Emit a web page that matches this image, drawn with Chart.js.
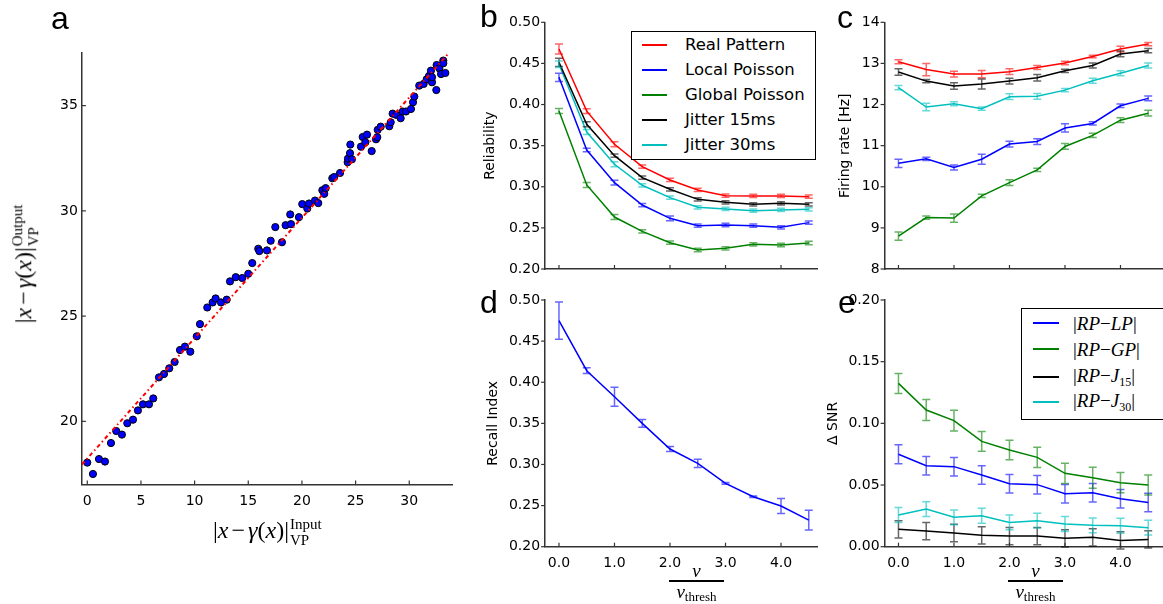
<!DOCTYPE html>
<html>
<head>
<meta charset="utf-8">
<script src="https://cdn.jsdelivr.net/npm/chart.js@4.4.0/dist/chart.umd.min.js"></script>
<style>
    body { margin: 0; background: #fff; }
    #fig { position: relative; width: 1163px; height: 604px; overflow: hidden; background: #fff; }
    canvas { position: absolute; left: 0; top: 0; }
    .plab { position: absolute; font-family: "Liberation Sans", Arial, sans-serif; font-size: 32px; line-height: 1; }
    .math { position: absolute; font-family: "Liberation Serif", serif; white-space: nowrap; color: #000; line-height: 1; }
    .math .op { margin: 0 3px; font-style: normal; }
    .ss { display: inline-block; vertical-align: middle; font-size: 15px; line-height: 1.05; text-align: left; margin-left: 1px; }
    .ss span { display: block; }
    .rot { transform: translate(-50%, -50%) rotate(-90deg); }
    .frac { position: absolute; text-align: center; font-family: "Liberation Serif", serif; }
    .frac .bar { border-top: 2px solid #000; margin: 0; }
    .frac .num { font-size: 19px; font-style: italic; line-height: 18px; }
    .frac .den { font-size: 19px; line-height: 20px; }
    .frac .den sub { font-size: 13px; font-style: normal; vertical-align: -3px; }
    .leg { position: absolute; border: 1px solid #000; background: #fff; }
    .leg .ls { position: absolute; height: 2px; }
    .leg .lt { position: absolute; white-space: nowrap; line-height: 1; transform: translateY(-50%); }
    .legb .lt { font-family: "DejaVu Sans", sans-serif; font-size: 16.5px; }
    .lege .lt { font-family: "Liberation Serif", serif; font-size: 19px; }
    .lege .lt sub { font-size: 12px; font-style: normal; }
</style>
</head>
<body>
<div id="fig">
    <canvas id="ca" width="1163" height="604"></canvas>
    <canvas id="cb" width="1163" height="604"></canvas>
    <canvas id="cc" width="1163" height="604"></canvas>
    <canvas id="cd" width="1163" height="604"></canvas>
    <canvas id="ce" width="1163" height="604"></canvas>

    <div class="plab" style="left:51px;top:2px">a</div>
    <div class="plab" style="left:480px;top:0px">b</div>
    <div class="plab" style="left:837px;top:1px">c</div>
    <div class="plab" style="left:480px;top:286px">d</div>
    <div class="plab" style="left:838px;top:286px">e</div>

    <div class="math rot" style="left:26px;top:264px;font-size:24px">|<i>x</i><span class="op">−</span><i>γ</i>(<i>x</i>)|<span class="ss"><span>Output</span><span>VP</span></span></div>
    <div class="math" style="left:213px;top:517px;font-size:24px">|<i>x</i><span class="op">−</span><i>γ</i>(<i>x</i>)|<span class="ss"><span>Input</span><span>VP</span></span></div>

    <div class="frac" style="left:669px;top:562px;width:55px">
        <div class="num">ν</div><div class="bar"></div><div class="den"><i>ν</i><sub>thresh</sub></div>
    </div>
    <div class="frac" style="left:1008px;top:562px;width:55px">
        <div class="num">ν</div><div class="bar"></div><div class="den"><i>ν</i><sub>thresh</sub></div>
    </div>

    <div id="legb" class="leg legb" style="left:631px;top:31px;width:183px;height:127px"></div>
    <div id="lege" class="leg lege" style="left:1021px;top:308px;width:141px;height:110px"></div>
</div>
<script>
const W = 1163, H = 604;
const AX = '#333';

const RED = '#ff0000', BLUE = '#0000ff', GREEN = '#008000', BLACK = '#000000', CYAN = '#00bfbf';

/* ── shared x grid for b-e ───────────────────────────── */
const X_STEPS = [0, 0.5, 1, 1.5, 2, 2.5, 3, 3.5, 4, 4.5];
const X_TICKS = [0, 1, 2, 3, 4];

/* ── a: output vs input distance ─────────────────────── */
const A_INPUT = [0.0, 0.53, 1.09, 1.65, 2.21, 2.70, 3.23, 3.73, 4.26, 4.72, 5.19, 5.75, 6.15, 6.68, 7.15,
    7.64, 8.14, 8.64, 9.10, 9.60, 10.20, 10.50, 11.18, 11.68, 11.96, 12.46, 12.99, 13.30, 13.83, 14.44,
    15.00, 15.37, 15.93, 16.03, 16.74, 17.09, 17.52, 18.14, 18.48, 18.98, 18.91, 19.72, 20.03, 20.50,
    20.66, 21.22, 21.52, 21.90, 22.08, 22.21, 22.83, 23.01, 23.55, 24.26, 24.29, 24.48, 24.66, 24.51,
    25.50, 25.66, 25.91, 26.06, 26.50, 26.90, 27.02, 27.06, 27.34, 28.14, 28.27, 28.45, 28.79, 29.20,
    29.39, 29.69, 30.16, 30.35, 30.47, 30.93, 31.34, 31.62, 31.84, 32.02, 32.12, 32.12, 32.52, 32.55,
    32.80, 32.96, 33.17, 33.17, 33.36];
const A_OUTPUT = [18.04, 17.50, 18.21, 18.09, 18.97, 19.54, 19.37, 19.91, 20.08, 20.52, 20.81, 20.81, 21.09, 22.09, 22.25,
    22.52, 22.82, 23.39, 23.55, 23.31, 24.04, 24.62, 25.41, 25.65, 25.84, 25.65, 25.78, 26.65, 26.85, 26.81,
    27.01, 27.52, 28.20, 28.09, 28.12, 28.58, 29.23, 28.51, 29.32, 29.37, 29.83, 29.70, 30.32, 30.11,
    30.35, 30.49, 30.37, 30.98, 30.81, 31.08, 31.55, 31.61, 31.80, 32.31, 32.48, 32.74, 32.45, 33.15,
    33.05, 33.51, 33.26, 33.62, 32.84, 33.40, 33.50, 33.85, 34.00, 34.02, 34.21, 34.62, 34.56, 34.40,
    34.72, 34.72, 34.84, 35.16, 35.43, 35.95, 36.03, 36.25, 36.41, 36.66, 36.11, 36.35, 35.74, 36.93,
    36.77, 36.50, 37.14, 37.01, 36.55];
const FIT_X = [-0.5, 33.6];
const FIT_Y = [17.95, 37.45];
const A_XTICKS = [0, 5, 10, 15, 20, 25, 30];
const A_YTICKS = [20, 25, 30, 35];

/* ── b: reliability ──────────────────────────────────── */
const REL_RP = [0.4676, 0.392, 0.3516, 0.3245, 0.3083, 0.2961, 0.2892, 0.2888, 0.2888, 0.288];
const REL_LP = [0.4331, 0.3447, 0.305, 0.2778, 0.2616, 0.2527, 0.2535, 0.2527, 0.2507, 0.2564];
const REL_GP = [0.3922, 0.3022, 0.2632, 0.2458, 0.232, 0.2231, 0.2251, 0.23, 0.2292, 0.2316];
const REL_J15 = [0.4514, 0.376, 0.3378, 0.3111, 0.2969, 0.2847, 0.2811, 0.2787, 0.2799, 0.2787];
const REL_J30 = [0.4489, 0.3666, 0.3273, 0.3018, 0.2868, 0.275, 0.273, 0.2709, 0.2718, 0.2726];
const REL_RP_ERR = [0.006, 0.003, 0.003, 0.002, 0.002, 0.002, 0.002, 0.002, 0.002, 0.002];
const REL_LP_ERR = [0.005, 0.002, 0.003, 0.002, 0.003, 0.002, 0.002, 0.002, 0.002, 0.002];
const REL_GP_ERR = [0.003, 0.003, 0.003, 0.002, 0.002, 0.002, 0.002, 0.002, 0.002, 0.002];
const REL_J15_ERR = [0.005, 0.003, 0.002, 0.002, 0.002, 0.002, 0.002, 0.002, 0.002, 0.002];
const REL_J30_ERR = [0.004, 0.003, 0.003, 0.002, 0.002, 0.002, 0.002, 0.002, 0.002, 0.002];
const REL_TICKS = [0.20, 0.25, 0.30, 0.35, 0.40, 0.45, 0.50];
const REL_LABELS = ['Real Pattern', 'Local Poisson', 'Global Poisson', 'Jitter 15ms', 'Jitter 30ms'];

/* ── c: firing rate ──────────────────────────────────── */
const FR_RP = [13.04, 12.85, 12.74, 12.74, 12.80, 12.90, 13.01, 13.17, 13.35, 13.47];
const FR_LP = [10.57, 10.68, 10.47, 10.67, 11.04, 11.10, 11.43, 11.54, 11.97, 12.15];
const FR_GP = [8.80, 9.25, 9.24, 9.78, 10.10, 10.41, 10.98, 11.25, 11.62, 11.79];
const FR_J15 = [12.79, 12.57, 12.45, 12.50, 12.57, 12.65, 12.82, 12.95, 13.23, 13.31];
const FR_J30 = [12.41, 11.94, 12.02, 11.90, 12.19, 12.20, 12.35, 12.58, 12.76, 12.95];
const FR_RP_ERR = [0.05, 0.15, 0.07, 0.09, 0.07, 0.05, 0.04, 0.03, 0.07, 0.04];
const FR_LP_ERR = [0.10, 0.04, 0.06, 0.12, 0.07, 0.07, 0.10, 0.04, 0.04, 0.06];
const FR_GP_ERR = [0.10, 0.04, 0.10, 0.04, 0.07, 0.04, 0.07, 0.05, 0.06, 0.07];
const FR_J15_ERR = [0.08, 0.04, 0.08, 0.12, 0.07, 0.08, 0.04, 0.06, 0.07, 0.05];
const FR_J30_ERR = [0.05, 0.09, 0.05, 0.04, 0.07, 0.07, 0.04, 0.06, 0.06, 0.06];
const FR_TICKS = [8, 9, 10, 11, 12, 13, 14];

/* ── d: recall index ─────────────────────────────────── */
const RECALL = [0.4749, 0.414, 0.3824, 0.35, 0.3188, 0.3013, 0.277, 0.2608, 0.2495, 0.2324];
const RECALL_ERR = [0.0227, 0.0035, 0.0115, 0.0047, 0.003, 0.005, 0.001, 0.001, 0.009, 0.012];

/* ── e: delta SNR ────────────────────────────────────── */
const SNR_LP = [0.0749, 0.0657, 0.0649, 0.0581, 0.0511, 0.0503, 0.043, 0.0438, 0.0389, 0.0359];
const SNR_GP = [0.1324, 0.1108, 0.1022, 0.0854, 0.0784, 0.0724, 0.0595, 0.0559, 0.0519, 0.05];
const SNR_J15 = [0.0141, 0.0127, 0.0111, 0.0092, 0.0086, 0.0086, 0.0068, 0.0076, 0.0051, 0.0059];
const SNR_J30 = [0.0257, 0.0305, 0.0238, 0.0251, 0.0197, 0.0211, 0.0184, 0.0173, 0.017, 0.0154];
const SNR_LP_ERR = [0.0077, 0.0075, 0.0075, 0.0075, 0.0075, 0.0075, 0.0075, 0.0075, 0.0075, 0.0075];
const SNR_GP_ERR = [0.0081, 0.0085, 0.0084, 0.008, 0.008, 0.0082, 0.0082, 0.0085, 0.0082, 0.0081];
const SNR_J15_ERR = [0.007, 0.007, 0.007, 0.007, 0.007, 0.007, 0.007, 0.007, 0.007, 0.007];
const SNR_J30_ERR = [0.006, 0.006, 0.006, 0.006, 0.006, 0.006, 0.006, 0.006, 0.006, 0.006];
const SNR_TICKS = [0.00, 0.05, 0.10, 0.15, 0.20];
const SNR_LABELS = ['|<i>RP</i>−<i>LP</i>|', '|<i>RP</i>−<i>GP</i>|', '|<i>RP</i>−<i>J</i><sub>15</sub>|', '|<i>RP</i>−<i>J</i><sub>30</sub>|'];

Chart.defaults.font.family = '"DejaVu Sans", sans-serif';
Chart.defaults.font.size = 14;
Chart.defaults.color = '#000';

/* ── plugins ─────────────────────────────────────────── */
const errorBars = {
    id: 'errorBars',
    afterDatasetsDraw(chart) {
        const { ctx, scales: { x, y } } = chart;
        chart.data.datasets.forEach(ds => {
            if (!ds.errors) return;
            ctx.save();
            ctx.strokeStyle = ds.borderColor;
            ctx.globalAlpha = 0.6;
            ctx.lineWidth = 1.5;
            ds.data.forEach((p, i) => {
                const e = ds.errors[i];
                const px = x.getPixelForValue(p.x);
                const y1 = y.getPixelForValue(p.y - e), y2 = y.getPixelForValue(p.y + e);
                ctx.beginPath();
                ctx.moveTo(px, y1); ctx.lineTo(px, y2);
                ctx.moveTo(px - 4, y1); ctx.lineTo(px + 4, y1);
                ctx.moveTo(px - 4, y2); ctx.lineTo(px + 4, y2);
                ctx.stroke();
            });
            ctx.restore();
        });
    }
};

const tickMarks = {
    id: 'tickMarks',
    afterDraw(chart, args, opts) {
        const { ctx, scales: { x, y } } = chart;
        ctx.save();
        ctx.strokeStyle = AX;
        ctx.lineWidth = 1.2;
        x.ticks.forEach(t => {
            const px = x.getPixelForValue(t.value);
            ctx.beginPath(); ctx.moveTo(px, x.top); ctx.lineTo(px, x.top - 4); ctx.stroke();
        });
        const dir = opts.yIn ? 1 : -1;
        y.ticks.forEach(t => {
            const py = y.getPixelForValue(t.value);
            ctx.beginPath(); ctx.moveTo(y.right, py); ctx.lineTo(y.right + dir * 4, py); ctx.stroke();
        });
        ctx.restore();
    }
};

function pts(xs, ys) { return xs.map((x, i) => ({ x, y: ys[i] })); }

function series(vals, errs, color) {
    return {
        data: pts(X_STEPS, vals), errors: errs,
        borderColor: color, borderWidth: 1.5, pointRadius: 0, tension: 0, fill: false
    };
}

function makePanel(id, area, yw, xh, datasets, sx, sy, yIn) {
    return new Chart(document.getElementById(id), {
        type: 'line',
        data: { datasets },
        options: {
            responsive: false,
            animation: false,
            events: [],
            layout: { padding: { left: area.l - yw, top: area.t, right: W - area.r, bottom: H - area.b - xh } },
            plugins: { legend: { display: false }, tooltip: { enabled: false }, tickMarks: { yIn } },
            scales: {
                x: Object.assign({
                    type: 'linear', position: 'bottom',
                    grid: { display: false, drawTicks: false },
                    border: { color: AX, width: 1.5 },
                    afterFit: s => { s.height = xh; }
                }, sx),
                y: Object.assign({
                    type: 'linear', position: 'left',
                    grid: { display: false, drawTicks: false },
                    border: { color: AX, width: 1.5 },
                    afterFit: s => { s.width = yw; }
                }, sy)
            }
        },
        plugins: [errorBars, tickMarks]
    });
}

function fixedTicks(list) { return s => { s.ticks = list.map(v => ({ value: v })); }; }

/* ── a ───────────────────────────────────────────────── */
makePanel('ca', { l: 81.9, t: 53, r: 452.2, b: 484.5 }, 60, 40, [
    { data: pts(FIT_X, FIT_Y), borderColor: RED, borderWidth: 2, borderDash: [4, 3, 1.5, 3], pointRadius: 0 },
    { data: pts(A_INPUT, A_OUTPUT), showLine: false, pointRadius: 3.6, backgroundColor: BLUE, borderColor: '#000', borderWidth: 1 }
], {
    min: -0.5, max: 34, afterBuildTicks: fixedTicks(A_XTICKS), ticks: { padding: 8 }
}, {
    min: 17, max: 37.5, afterBuildTicks: fixedTicks(A_YTICKS), ticks: { padding: 4 }
}, true);

/* ── b ───────────────────────────────────────────────── */
makePanel('cb', { l: 545.1, t: 22.3, r: 817.1, b: 269 }, 62.7, 10, [
    series(REL_RP, REL_RP_ERR, RED),
    series(REL_LP, REL_LP_ERR, BLUE),
    series(REL_GP, REL_GP_ERR, GREEN),
    series(REL_J15, REL_J15_ERR, BLACK),
    series(REL_J30, REL_J30_ERR, CYAN)
], {
    min: -0.25, max: 4.65, afterBuildTicks: fixedTicks(X_TICKS), ticks: { display: false }
}, {
    min: 0.2, max: 0.5, afterBuildTicks: fixedTicks(REL_TICKS),
    ticks: { padding: 5, callback: v => v.toFixed(2) },
    title: { display: true, text: 'Reliability', font: { size: 14 }, padding: { top: 0, bottom: 0 } }
}, false);

/* ── c ───────────────────────────────────────────────── */
makePanel('cc', { l: 884.6, t: 22.3, r: 1162.1, b: 269 }, 48, 10, [
    series(FR_RP, FR_RP_ERR, RED),
    series(FR_LP, FR_LP_ERR, BLUE),
    series(FR_GP, FR_GP_ERR, GREEN),
    series(FR_J15, FR_J15_ERR, BLACK),
    series(FR_J30, FR_J30_ERR, CYAN)
], {
    min: -0.25, max: 4.75, afterBuildTicks: fixedTicks(X_TICKS), ticks: { display: false }
}, {
    min: 8, max: 14, afterBuildTicks: fixedTicks(FR_TICKS),
    ticks: { padding: 5 },
    title: { display: true, text: 'Firing rate [Hz]', font: { size: 14 }, padding: { top: 0, bottom: 0 } }
}, false);

/* ── d ───────────────────────────────────────────────── */
makePanel('cd', { l: 545.1, t: 300, r: 817.1, b: 546.7 }, 60.2, 40, [
    series(RECALL, RECALL_ERR, BLUE)
], {
    min: -0.25, max: 4.65, afterBuildTicks: fixedTicks(X_TICKS),
    ticks: { padding: 8, callback: v => v.toFixed(1) }
}, {
    min: 0.2, max: 0.5, afterBuildTicks: fixedTicks(REL_TICKS),
    ticks: { padding: 5, callback: v => v.toFixed(2) },
    title: { display: true, text: 'Recall Index', font: { size: 14 }, padding: { top: 0, bottom: 0 } }
}, false);

/* ── e ───────────────────────────────────────────────── */
makePanel('ce', { l: 884.6, t: 300, r: 1162.1, b: 546.7 }, 59.7, 40, [
    series(SNR_LP, SNR_LP_ERR, BLUE),
    series(SNR_GP, SNR_GP_ERR, GREEN),
    series(SNR_J15, SNR_J15_ERR, BLACK),
    series(SNR_J30, SNR_J30_ERR, CYAN)
], {
    min: -0.25, max: 4.75, afterBuildTicks: fixedTicks(X_TICKS),
    ticks: { padding: 8, callback: v => v.toFixed(1) }
}, {
    min: 0, max: 0.2, afterBuildTicks: fixedTicks(SNR_TICKS),
    ticks: { padding: 5, callback: v => v.toFixed(2) },
    title: { display: true, text: 'Δ SNR', font: { size: 14 }, padding: { top: 0, bottom: 0 } }
}, false);

/* ── legends ─────────────────────────────────────────── */
function buildLegend(id, labels, colors, rowY, lineX0, lineX1, textX) {
    const box = document.getElementById(id);
    box.innerHTML = labels.map((l, i) =>
        `<div class="ls" style="left:${lineX0}px;width:${lineX1 - lineX0}px;top:${rowY[i] - 1}px;background:${colors[i]}"></div>
         <div class="lt" style="left:${textX}px;top:${rowY[i]}px">${l}</div>`
    ).join('');
}
buildLegend('legb', REL_LABELS, [RED, BLUE, GREEN, BLACK, CYAN], [13, 38, 63, 88, 113], 10, 35, 53);
buildLegend('lege', SNR_LABELS, [BLUE, GREEN, BLACK, CYAN], [14, 40, 68, 93], 11, 37, 51);
</script>
</body>
</html>
